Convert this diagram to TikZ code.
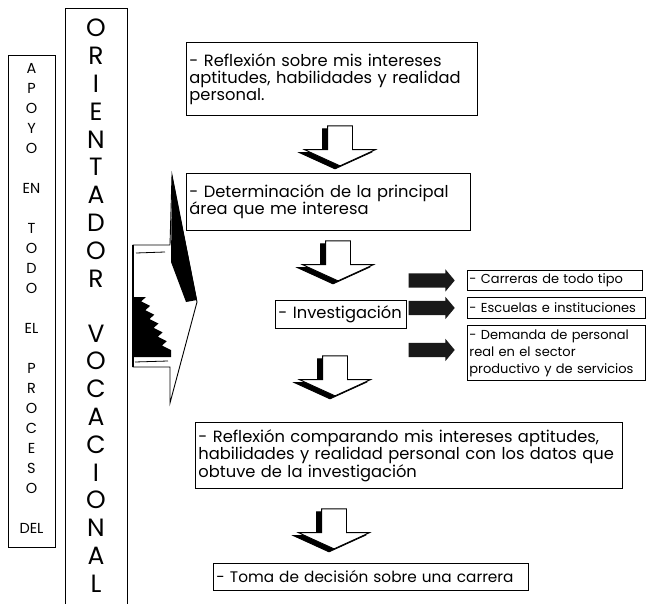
\documentclass[tikz,border=0pt]{standalone}
\usepackage{fontspec}
\setmainfont{Poppins}
\usetikzlibrary{shapes.arrows, positioning, calc}

\tikzset{
  paso/.style={rectangle, draw=black, line width=0.9pt, inner sep=3pt, align=left,
               anchor=north west, font=\fontsize{16.3}{17}\selectfont},
  opcion/.style={paso, inner sep=2pt, font=\fontsize{13}{17}\selectfont},
  columna/.style={rectangle, draw=black, line width=1.3pt, anchor=north west},
  letras/.style={align=center, inner sep=0pt, anchor=north},
  bajada/.style={single arrow, draw=black, fill=white, line width=0.9pt, rotate=-90,
                 minimum height=40pt, inner xsep=0pt, inner ysep=12pt,
                 single arrow head extend=23pt, single arrow tip angle=131},
  sombra/.style={bajada, fill=black},
  flecha/.style={single arrow, fill=black!90, minimum height=46pt, inner xsep=0pt,
                 inner ysep=7pt, single arrow head extend=4pt, single arrow tip angle=100}
}

\begin{document}
\begin{tikzpicture}[x=1pt, y=-1pt]
  \useasboundingbox[fill=white] (0,0) rectangle (648,604);

  % columnas de la izquierda
  \node[columna, minimum width=47pt, minimum height=492pt] (apoyo) at (8,55) {};
  \node[letras, font=\fontsize{14.5}{20}\selectfont] (apoyotxt) at (31.5,63)
    {A\\P\\O\\Y\\O\\[20pt]EN\\[20pt]T\\O\\D\\O\\[20pt]EL\\[20pt]P\\R\\O\\C\\E\\S\\O\\[20pt]DEL};
  \node[columna, minimum width=62pt, minimum height=620pt] (orient) at (65,8) {};
  \node[letras, font=\fontsize{25}{27.8}\selectfont] (orienttxt) at (96,19)
    {O\\R\\I\\E\\N\\T\\A\\D\\O\\R\\[27.2pt]V\\O\\C\\A\\C\\I\\O\\N\\A\\L};

  % flecha grande
  \draw[line width=0.9pt, fill=white] (133,245) -- (170,245) -- (172,175) -- (197,302)
    -- (170,403) -- (170,367) -- (133,367) -- cycle;
  \fill (172,175) -- (197,300) -- (186,302) -- (171,262) -- cycle;
  \fill (133,297) -- (146,297)
    \foreach \i in {1,...,6}{ -- ($(146,297)!{(\i-0.5)/6}!(171,350)+(-7,0)$)
                              -- ($(146,297)!{\i/6}!(171,350)$) }
    -- (171,357) -- (133,357) -- cycle;
  \draw[line width=1.5pt] (133,245) -- (133,367);
  \draw[line width=0.8pt] (136,253) -- (165,252);
  \draw[line width=0.8pt] (135,362) -- (168,361);

  % pasos
  \node[paso, text width=285pt, minimum height=73pt] (refl) at (186,42)
    {- Reflexión sobre mis intereses\\aptitudes, habilidades y realidad\\personal.};
  \node[paso, text width=278pt, minimum height=57pt] (det) at (186,173)
    {- Determinación de la principal\\área que me interesa};
  \node[paso, text width=125pt, minimum height=28pt] (inv) at (275,300)
    {- Investigación};
  \node[paso, text width=421pt, minimum height=66pt] (comp) at (195,422)
    {- Reflexión comparando mis intereses aptitudes,\\habilidades y realidad personal con los datos que\\obtuve de la investigación};
  \node[paso, text width=309pt, minimum height=27pt, font=\fontsize{15.3}{17}\selectfont] (toma) at (213,563)
    {\mbox{- Toma de decisión sobre una carrera}};

  % opciones
  \node[opcion, text width=171pt, minimum height=20pt] (carr) at (467,270)
    {- Carreras de todo tipo};
  \node[opcion, text width=174pt, minimum height=21pt] (esc) at (467,297)
    {- Escuelas e instituciones};
  \node[opcion, text width=174pt, minimum height=55pt] (dem) at (467,325)
    {- Demanda de personal\\real en el sector\\productivo y de servicios};
  \node[flecha, left=12pt of carr] (f1) {};
  \node[flecha, left=12pt of esc] (f2) {};
  \node[flecha, left=12pt of dem, yshift=3pt] (f3) {};

  % flechas hacia abajo
  \node[sombra] (b1s) at (335,146) {};
  \node[bajada] (b1) at (340,143) {};
  \node[sombra] (b2s) at (333,261) {};
  \node[bajada] (b2) at (338,258) {};
  \node[sombra] (b3s) at (330,376) {};
  \node[bajada] (b3) at (335,373) {};
  \node[sombra] (b4s) at (329,529) {};
  \node[bajada] (b4) at (334,526) {};
\end{tikzpicture}
\end{document}
